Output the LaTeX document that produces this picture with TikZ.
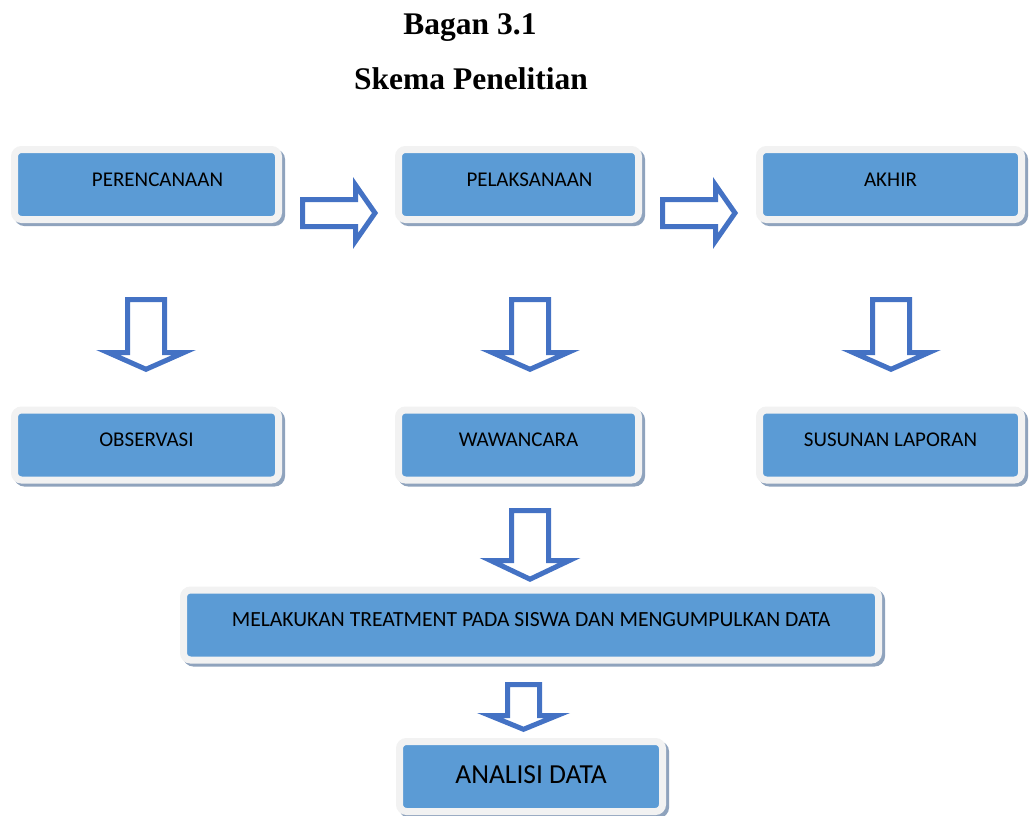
\documentclass[tikz,border=0pt]{standalone}
\usepackage{fontspec}
\setmainfont{Carlito}
\newfontfamily\headfont{Liberation Serif}
\usetikzlibrary{shapes, arrows, positioning}

\definecolor{boxblue}{HTML}{5B9BD5}
\definecolor{framegray}{HTML}{F2F2F2}
\definecolor{shadowgray}{HTML}{8FA3BD}
\definecolor{arrowblue}{HTML}{4472C4}

\begin{document}
\begin{tikzpicture}[
        x=1pt, y=-1pt,
        block/.style={rectangle, rounded corners=7pt, draw=framegray, fill=boxblue, line width=7pt, minimum height=70pt, inner sep=0pt, text height=12pt, text depth=9pt, font=\fontsize{21}{25}\selectfont, preaction={draw=shadowgray, fill=shadowgray, line width=7pt, transform canvas={xshift=3pt, yshift=-3pt}}},
        bigblock/.style={block, text height=16pt, text depth=3pt, font=\fontsize{27.5}{32}\selectfont},
        title/.style={anchor=base, font=\headfont\bfseries\fontsize{31.5}{36}\selectfont},
        hollow/.style={draw=arrowblue, line width=5pt, fill=white}
    ]
    \useasboundingbox (0,0) rectangle (1029,816);

    % Title
    \node [title] (bagan) at (470,35) {Bagan 3.1};
    \node [title] (skema) at (471,90) {Skema Penelitian};

    % Stages
    \node [block, minimum width=264pt] (plan) at (146.5,184.5) {\hspace{22pt}PERENCANAAN};
    \node [block, minimum width=240pt] (exec) at (518.5,184.5) {\hspace{22pt}PELAKSANAAN};
    \node [block, minimum width=262pt] (final) at (890.5,184.5) {AKHIR};

    % Activities
    \node [block, minimum width=264pt, below=183.5pt of plan] (obs) {OBSERVASI};
    \node [block, minimum width=240pt, below=183.5pt of exec] (interview) {WAWANCARA};
    \node [block, minimum width=262pt, below=183.5pt of final] (report) {SUSUNAN LAPORAN};

    % Treatment and analysis
    \node [block, minimum width=695pt, font=\fontsize{21.6}{26}\selectfont] (treat) at (531,625) {MELAKUKAN TREATMENT PADA SISWA DAN MENGUMPULKAN DATA};
    \node [bigblock, minimum width=263pt] (analysis) at (531,776.5) {ANALISI DATA};

    % Right arrows
    \draw [hollow] (302.5,199.5) -- (355.5,199.5) -- (355.5,185) -- (375,213) -- (355.5,241) -- (355.5,226.5) -- (302.5,226.5) -- cycle;
    \draw [hollow, shift={(360,0)}] (302.5,199.5) -- (355.5,199.5) -- (355.5,185) -- (375,213) -- (355.5,241) -- (355.5,226.5) -- (302.5,226.5) -- cycle;

    % Down arrows
    \draw [hollow, shift={(146,0)}] (-18.5,299.5) -- (18.5,299.5) -- (18.5,352.5) -- (38,352.5) -- (0,369.3) -- (-38,352.5) -- (-18.5,352.5) -- cycle;
    \draw [hollow, shift={(530,0)}] (-18.5,299.5) -- (18.5,299.5) -- (18.5,352.5) -- (38,352.5) -- (0,369.3) -- (-38,352.5) -- (-18.5,352.5) -- cycle;
    \draw [hollow, shift={(891,0)}] (-18.5,299.5) -- (18.5,299.5) -- (18.5,352.5) -- (38,352.5) -- (0,369.3) -- (-38,352.5) -- (-18.5,352.5) -- cycle;
    \draw [hollow, shift={(530,0)}] (-18.5,510.5) -- (18.5,510.5) -- (18.5,560.5) -- (39.4,560.5) -- (0,579.2) -- (-39.4,560.5) -- (-18.5,560.5) -- cycle;
    \draw [hollow, shift={(523.5,0)}] (-16,684.5) -- (16,684.5) -- (16,715.5) -- (33.8,715.5) -- (0,729.3) -- (-33.8,715.5) -- (-16,715.5) -- cycle;

\end{tikzpicture}
\end{document}
